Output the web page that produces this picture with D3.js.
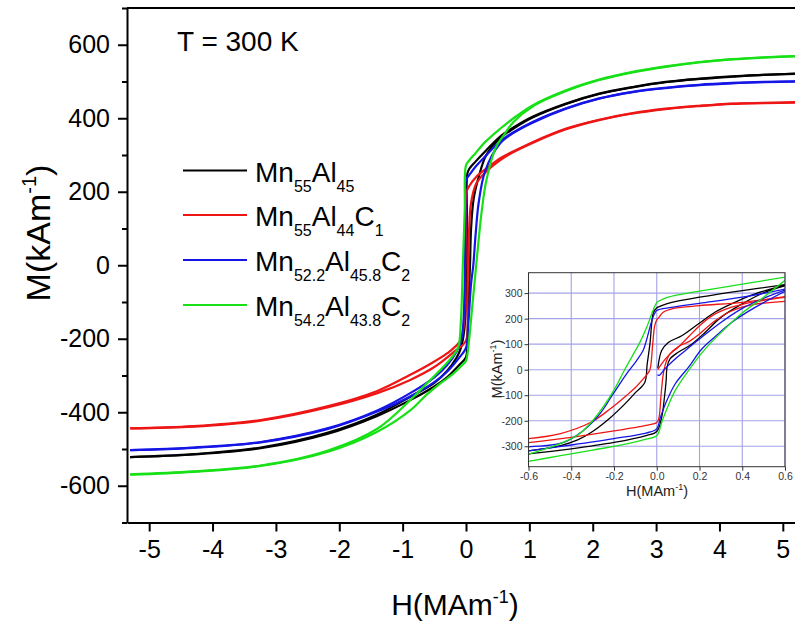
<!DOCTYPE html>
<html><head><meta charset="utf-8">
<script src="https://cdn.jsdelivr.net/npm/d3@7"></script>
<style>
body{margin:0;background:#fff}
svg{display:block}
text{font-family:"Liberation Sans",Arial,Helvetica,sans-serif}
</style>
</head><body>
<svg id="chart" width="795" height="624"></svg>
<script>
// ---------- DATA ----------
const seriesLabels = [
  [["Mn",0],["55",1],["Al",0],["45",1]],
  [["Mn",0],["55",1],["Al",0],["44",1],["C",0],["1",1]],
  [["Mn",0],["52.2",1],["Al",0],["45.8",1],["C",0],["2",1]],
  [["Mn",0],["54.2",1],["Al",0],["43.8",1],["C",0],["2",1]]
];
const seriesColors = ["#000000", "#ee1515", "#1515e6", "#17e017"];

// Main plot, descending / ascending branches [H (MA/m), M (kA/m)]
const mainDescBlack = [[5.3,522],[4.7,518],[4.2,514],[3.7,508],[3.15,499],[2.63,485],[2.1,467],[1.58,440],[1.05,404],[0.75,375],[0.53,349],[0.32,313],[0.15,282],[0.05,262],[0.02,248],[0.015,120],[0.01,0],[0,-100],[-0.03,-180],[-0.08,-225],[-0.15,-252],[-0.3,-288],[-0.5,-320],[-0.88,-358],[-1.4,-406],[-2.19,-456],[-3.24,-496],[-4.3,-514],[-5.3,-522]];
const mainAscBlack = [[-5.3,-522],[-4.3,-515],[-3.24,-498],[-2.19,-459],[-1.4,-410],[-0.88,-367],[-0.5,-330],[-0.3,-305],[-0.1,-270],[0,-250],[0.02,-200],[0.04,-100],[0.063,0],[0.08,100],[0.12,180],[0.2,240],[0.32,300],[0.53,345],[0.75,372],[1.05,402],[1.58,439],[2.1,466],[2.63,484],[3.15,498],[3.7,507],[4.2,513],[4.7,518],[5.3,521]];

const mainDescRed = [[5.3,444],[4.7,442],[4.2,440],[3.68,434],[3.15,426],[2.63,414],[2.1,396],[1.58,372],[1.05,335],[0.75,310],[0.53,290],[0.32,263],[0.16,240],[0.05,215],[0.01,200],[0,100],[-0.01,0],[-0.02,-100],[-0.04,-170],[-0.1,-208],[-0.3,-240],[-0.6,-272],[-0.88,-298],[-1.4,-342],[-2.19,-384],[-3.24,-421],[-4.3,-438],[-5.3,-444]];
const mainAscRed = [[-5.3,-444],[-4.3,-439],[-3.24,-423],[-2.19,-387],[-1.4,-348],[-0.88,-312],[-0.5,-277],[-0.2,-237],[0,-205],[0.02,-100],[0.036,0],[0.05,100],[0.08,170],[0.16,222],[0.32,255],[0.53,285],[0.75,308],[1.05,333],[1.58,370],[2.1,395],[2.63,413],[3.15,425],[3.68,433],[4.2,439],[4.7,441],[5.3,443]];

const mainDescBlue = [[5.3,501],[4.7,499],[4.2,496],[3.68,491],[3.15,483],[2.63,472],[2.1,454],[1.58,427],[1.05,390],[0.75,362],[0.53,336],[0.32,299],[0.15,268],[0.05,245],[0,232],[-0.008,150],[-0.016,0],[-0.03,-120],[-0.07,-200],[-0.15,-235],[-0.3,-272],[-0.5,-305],[-0.88,-348],[-1.4,-395],[-2.19,-444],[-3.24,-481],[-4.3,-496],[-5.3,-503]];
const mainAscBlue = [[-5.3,-503],[-4.3,-497],[-3.24,-482],[-2.19,-446],[-1.4,-398],[-0.88,-357],[-0.5,-318],[-0.3,-290],[-0.1,-250],[0,-225],[0.04,-150],[0.08,-50],[0.115,0],[0.15,80],[0.2,170],[0.3,255],[0.53,330],[0.75,360],[1.05,388],[1.58,426],[2.1,453],[2.63,471],[3.15,482],[3.68,490],[4.2,495],[4.7,498],[5.3,500]];

const mainDescGreen = [[5.3,570],[4.7,566],[4.2,561],[3.68,553],[3.15,541],[2.63,526],[2.1,505],[1.58,476],[1.05,435],[0.75,400],[0.53,370],[0.3,335],[0.15,305],[0.05,285],[0,272],[-0.02,150],[-0.05,0],[-0.08,-150],[-0.12,-222],[-0.2,-245],[-0.41,-286],[-0.62,-322],[-0.88,-367],[-1.4,-445],[-2.19,-505],[-3.24,-545],[-4.3,-561],[-5.3,-569]];
const mainAscGreen = [[-5.3,-570],[-4.3,-562],[-3.24,-546],[-2.19,-508],[-1.4,-453],[-0.88,-395],[-0.62,-352],[-0.41,-322],[-0.2,-295],[-0.04,-268],[0,-260],[0.05,-200],[0.1,-110],[0.15,-20],[0.2,70],[0.25,150],[0.32,230],[0.47,320],[0.6,355],[0.75,390],[1.05,432],[1.58,474],[2.1,504],[2.63,525],[3.15,540],[3.68,552],[4.2,560],[4.7,565],[5.3,569]];

// Inset (low field): descending, ascending and initial branches
const insetDescBlack = [[0.6,333],[0.4,310],[0.2,284],[0.07,264],[0.02,250],[0,242],[-0.015,225],[-0.032,100],[-0.045,20],[-0.056,-50],[-0.1,-90],[-0.15,-135],[-0.22,-190],[-0.3,-242],[-0.37,-275],[-0.45,-297],[-0.6,-318]];
const insetAscBlack = [[-0.6,-330],[-0.4,-310],[-0.2,-285],[-0.05,-258],[0,-242],[0.023,-187],[0.036,-108],[0.044,-43],[0.048,9],[0.062,42],[0.1,68],[0.163,100],[0.226,146],[0.3,205],[0.4,258],[0.505,303],[0.6,329]];
const insetVirginBlack = [[0.005,5],[0.023,75],[0.054,107],[0.117,133],[0.194,179],[0.272,225],[0.365,264],[0.46,297],[0.6,331]];

const insetDescRed = [[0.6,286],[0.4,264],[0.2,251],[0.08,240],[0.03,225],[0.01,205],[0,195],[-0.01,170],[-0.019,100],[-0.032,0],[-0.047,-20],[-0.062,-35],[-0.1,-70],[-0.14,-100],[-0.22,-155],[-0.31,-207],[-0.45,-250],[-0.6,-270]];
const insetAscRed = [[-0.6,-286],[-0.4,-265],[-0.2,-240],[-0.05,-218],[0,-207],[0.01,-190],[0.02,-100],[0.03,-20],[0.04,20],[0.06,60],[0.1,90],[0.15,110],[0.2,140],[0.27,190],[0.35,230],[0.45,255],[0.6,268]];
const insetVirginRed = [[0.005,0],[0.02,20],[0.06,60],[0.1,88],[0.15,130],[0.2,172],[0.26,212],[0.35,245],[0.45,265],[0.6,283]];

const insetDescBlue = [[0.6,316],[0.4,284],[0.2,260],[0.07,244],[0,232],[-0.01,220],[-0.02,200],[-0.032,166],[-0.05,110],[-0.064,75],[-0.095,35],[-0.142,-17],[-0.205,-96],[-0.267,-174],[-0.346,-240],[-0.44,-286],[-0.6,-302]];
const insetAscBlue = [[-0.6,-318],[-0.4,-295],[-0.2,-270],[-0.05,-248],[0,-232],[0.016,-190],[0.04,-135],[0.086,-56],[0.148,9],[0.21,80],[0.27,127],[0.35,185],[0.46,244],[0.6,307]];
const insetVirginBlue = [[0.003,-20],[0.012,-22],[0.04,5],[0.086,42],[0.148,85],[0.21,127],[0.3,185],[0.4,240],[0.5,280],[0.6,312]];

const insetDescGreen = [[0.6,363],[0.4,335],[0.2,308],[0.1,293],[0.05,283],[0.02,273],[0,263],[-0.016,235],[-0.05,160],[-0.08,105],[-0.11,60],[-0.15,0],[-0.2,-80],[-0.25,-145],[-0.3,-200],[-0.36,-250],[-0.44,-286],[-0.52,-310],[-0.6,-331]];
const insetAscGreen = [[-0.6,-359],[-0.45,-337],[-0.3,-315],[-0.14,-291],[-0.05,-272],[0,-259],[0.023,-207],[0.047,-154],[0.086,-82],[0.148,-4],[0.22,75],[0.31,153],[0.4,222],[0.5,284],[0.6,350]];

const mainXTicks = [-5,-4,-3,-2,-1,0,1,2,3,4,5];
const mainYTicks = [-600,-400,-200,0,200,400,600];
const mainYMinor = [-700,-500,-300,-100,100,300,500,700];
const insetXTicks = [-0.6,-0.4,-0.2,0.0,0.2,0.4,0.6];
const insetXLabels = ["-0.6","-0.4","-0.2","0.0","0.2","0.4","0.6"];
const insetYTicks = [-300,-200,-100,0,100,200,300];

const mainSeries = [
  [mainDescBlack, mainAscBlack],
  [mainDescRed, mainAscRed],
  [mainDescBlue, mainAscBlue],
  [mainDescGreen, mainAscGreen]
];
const insetSeries = [
  [insetDescBlack, insetAscBlack, insetVirginBlack],
  [insetDescRed, insetAscRed, insetVirginRed],
  [insetDescBlue, insetAscBlue, insetVirginBlue],
  [insetDescGreen, insetAscGreen]
];

// ---------- DRAW ----------
const svg = d3.select("#chart");
const FONT = '"Liberation Sans",Arial,sans-serif';
const plain = d => String(d);   // hyphen-minus, as in the original

const x = d3.scaleLinear().domain([-5.35, 5.35]).range([127, 805]);
const y = d3.scaleLinear().domain([-700, 700]).range([522.5, 8]);

svg.append("defs").append("clipPath").attr("id","mainClip")
  .append("rect").attr("x",127).attr("y",8).attr("width",680).attr("height",515);

const lineMain = d3.line().x(d=>x(d[0])).y(d=>y(d[1])).curve(d3.curveCatmullRom.alpha(0.5));
const gMain = svg.append("g").attr("clip-path","url(#mainClip)");
mainSeries.forEach((branches,i)=>{
  branches.forEach(b=>{
    gMain.append("path").attr("d",lineMain(b)).attr("fill","none")
      .attr("stroke",seriesColors[i]).attr("stroke-width",2.2).attr("stroke-linejoin","round");
  });
});

// frame top
svg.append("line").attr("x1",127).attr("x2",795).attr("y1",8).attr("y2",8).attr("stroke","#000").attr("stroke-width",2);

const yAxis = d3.axisLeft(y).tickValues(mainYTicks).tickSize(9).tickPadding(8).tickSizeOuter(0).tickFormat(plain);
const gy = svg.append("g").attr("transform","translate(127,0)").call(yAxis);
gy.select(".domain").attr("stroke-width",2);
gy.selectAll(".tick line").attr("stroke-width",2);
gy.selectAll(".tick text").attr("font-size",25).attr("font-family",FONT).attr("fill","#000");
svg.append("g").attr("transform","translate(127,0)")
  .call(d3.axisLeft(y).tickValues(mainYMinor).tickSize(5).tickFormat("").tickSizeOuter(0))
  .call(g=>{g.select(".domain").remove(); g.selectAll("line").attr("stroke-width",2);});

const xAxis = d3.axisBottom(x).tickValues(mainXTicks).tickSize(9).tickPadding(9).tickSizeOuter(0).tickFormat(plain);
const gx = svg.append("g").attr("transform","translate(0,522.5)").call(xAxis);
gx.select(".domain").attr("stroke-width",2);
gx.selectAll(".tick line").attr("stroke-width",2);
gx.selectAll(".tick text").attr("font-size",25).attr("font-family",FONT).attr("fill","#000");

// axis titles
const xt = svg.append("text").attr("x",455).attr("y",615).attr("text-anchor","middle")
  .attr("font-size",30).attr("fill","#000");
xt.append("tspan").text("H(MAm");
xt.append("tspan").text("-1").attr("font-size",18).attr("dy",-12);
xt.append("tspan").text(")").attr("dy",12);

const yt = svg.append("text").attr("transform","translate(50,233) rotate(-90)").attr("text-anchor","middle")
  .attr("font-size",34).attr("fill","#000");
yt.append("tspan").text("M(kAm");
yt.append("tspan").text("-1").attr("font-size",20).attr("dy",-14);
yt.append("tspan").text(")").attr("dy",14);

svg.append("text").attr("x",177).attr("y",51).attr("font-size",28).attr("fill","#000").text("T = 300 K");

// legend
const legendY = [170.5, 215, 260, 305];
seriesLabels.forEach((parts,i)=>{
  const ly = legendY[i];
  svg.append("line").attr("x1",183).attr("x2",247).attr("y1",ly).attr("y2",ly)
    .attr("stroke",seriesColors[i]).attr("stroke-width",2.2);
  const t = svg.append("text").attr("x",255).attr("y",ly+11).attr("font-size",28).attr("fill","#000");
  let sub = false;
  parts.forEach(([s,isSub])=>{
    const ts = t.append("tspan").text(s);
    if (isSub) { ts.attr("font-size",16).attr("dy", sub?0:10); sub = true; }
    else { ts.attr("dy", sub?-10:0); sub = false; }
  });
});

// ---------- INSET ----------
const ix = d3.scaleLinear().domain([-0.6, 0.6]).range([528.5, 785]);
const iy = d3.scaleLinear().domain([-380, 380]).range([466.7, 272.7]);

svg.append("rect").attr("x",528.5).attr("y",272.7).attr("width",256.5).attr("height",194).attr("fill","#fff");
svg.append("defs").append("clipPath").attr("id","insetClip")
  .append("rect").attr("x",528.5).attr("y",272.7).attr("width",256.5).attr("height",194);

const gIn = svg.append("g");
gIn.selectAll(".vg").data(insetXTicks).enter().append("line")
  .attr("x1",d=>ix(d)).attr("x2",d=>ix(d)).attr("y1",272.7).attr("y2",466.7)
  .attr("stroke","#a3a3e8").attr("stroke-width",1.1);
gIn.selectAll(".hg").data(insetYTicks).enter().append("line")
  .attr("y1",d=>iy(d)).attr("y2",d=>iy(d)).attr("x1",528.5).attr("x2",785)
  .attr("stroke","#a3a3e8").attr("stroke-width",1.1);

const lineIn = d3.line().x(d=>ix(d[0])).y(d=>iy(d[1])).curve(d3.curveCatmullRom.alpha(0.5));
const gInC = gIn.append("g").attr("clip-path","url(#insetClip)");
insetSeries.forEach((branches,i)=>{
  branches.forEach(b=>{
    gInC.append("path").attr("d",lineIn(b)).attr("fill","none")
      .attr("stroke",seriesColors[i]).attr("stroke-width",1.3).attr("stroke-linejoin","round");
  });
});

gIn.append("rect").attr("x",528.5).attr("y",272.7).attr("width",256.5).attr("height",194)
  .attr("fill","none").attr("stroke","#333").attr("stroke-width",1);

const iyAxis = d3.axisLeft(iy).tickValues(insetYTicks).tickSize(4).tickPadding(2).tickSizeOuter(0).tickFormat(plain);
const giy = gIn.append("g").attr("transform","translate(528.5,0)").call(iyAxis);
giy.select(".domain").remove();
giy.selectAll(".tick line").attr("stroke","#333");
giy.selectAll(".tick text").attr("font-size",10.5).attr("font-family",FONT).attr("fill","#333");

const ixAxis = d3.axisBottom(ix).tickValues(insetXTicks).tickSize(4).tickPadding(2).tickSizeOuter(0)
  .tickFormat((d,i)=>insetXLabels[i]);
const gix = gIn.append("g").attr("transform","translate(0,466.7)").call(ixAxis);
gix.select(".domain").remove();
gix.selectAll(".tick line").attr("stroke","#333");
gix.selectAll(".tick text").attr("font-size",10.5).attr("font-family",FONT).attr("fill","#333");

const ixt = gIn.append("text").attr("x",657).attr("y",496).attr("text-anchor","middle")
  .attr("font-size",14.5).attr("fill","#222");
ixt.append("tspan").text("H(MAm");
ixt.append("tspan").text("-1").attr("font-size",9).attr("dy",-6);
ixt.append("tspan").text(")").attr("dy",6);

const iyt = gIn.append("text").attr("transform","translate(502,369) rotate(-90)").attr("text-anchor","middle")
  .attr("font-size",14.5).attr("fill","#222");
iyt.append("tspan").text("M(kAm");
iyt.append("tspan").text("-1").attr("font-size",9).attr("dy",-6);
iyt.append("tspan").text(")").attr("dy",6);
</script>
</body></html>
